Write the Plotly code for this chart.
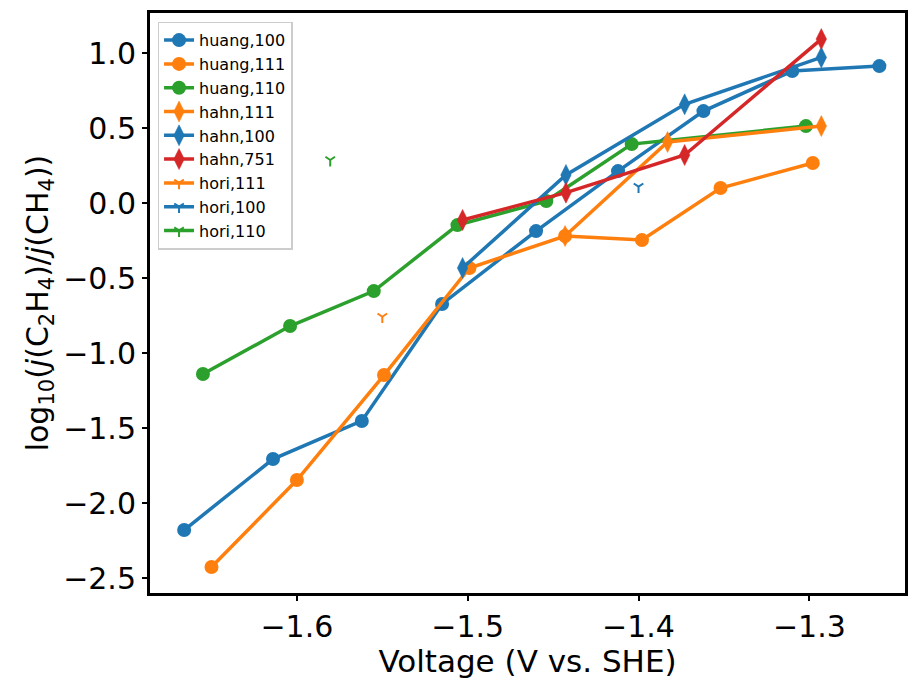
import plotly.graph_objects as go

BLUE = "#1f77b4"
ORANGE = "#ff7f0e"
GREEN = "#2ca02c"
RED = "#d62728"

# Huang data (circles)
huang_100_v = [-1.666, -1.614, -1.562, -1.515, -1.460, -1.412, -1.362, -1.310, -1.259]
huang_100_r = [-2.18, -1.707, -1.453, -0.673, -0.187, 0.213, 0.613, 0.88, 0.913]

huang_111_v = [-1.650, -1.600, -1.549, -1.499, -1.443, -1.398, -1.352, -1.298]
huang_111_r = [-2.427, -1.847, -1.147, -0.433, -0.22, -0.247, 0.10, 0.267]

huang_110_v = [-1.655, -1.604, -1.555, -1.506, -1.454, -1.404, -1.302]
huang_110_r = [-1.14, -0.82, -0.587, -0.147, 0.013, 0.393, 0.513]

# Hahn data (diamonds)
hahn_111_v = [-1.443, -1.383, -1.293]
hahn_111_r = [-0.22, 0.407, 0.513]

hahn_100_v = [-1.503, -1.4425, -1.373, -1.293]
hahn_100_r = [-0.433, 0.187, 0.658, 0.971]

hahn_751_v = [-1.503, -1.4425, -1.373, -1.293]
hahn_751_r = [-0.113, 0.069, 0.32, 1.093]

# Hori data (single points)
hori_111_v = [-1.550]
hori_111_r = [-0.758]
hori_100_v = [-1.400]
hori_100_r = [0.109]
hori_110_v = [-1.5805]
hori_110_r = [0.287]

x_ticks = [-1.6, -1.5, -1.4, -1.3]
y_ticks = [1.0, 0.5, 0.0, -0.5, -1.0, -1.5, -2.0, -2.5]


def fmt(v):
    s = f"{v:.1f}"
    return s.replace("-", "\u2212")


series = [
    ("huang,100", huang_100_v, huang_100_r, BLUE, "circle"),
    ("huang,111", huang_111_v, huang_111_r, ORANGE, "circle"),
    ("huang,110", huang_110_v, huang_110_r, GREEN, "circle"),
    ("hahn,111", hahn_111_v, hahn_111_r, ORANGE, "diamond-tall"),
    ("hahn,100", hahn_100_v, hahn_100_r, BLUE, "diamond-tall"),
    ("hahn,751", hahn_751_v, hahn_751_r, RED, "diamond-tall"),
    ("hori,111", hori_111_v, hori_111_r, ORANGE, "y-down"),
    ("hori,100", hori_100_v, hori_100_r, BLUE, "y-down"),
    ("hori,110", hori_110_v, hori_110_r, GREEN, "y-down"),
]

fig = go.Figure()
for name, xs, ys, color, sym in series:
    if sym == "circle":
        marker = dict(symbol=sym, size=14, color=color, line=dict(width=0))
    elif sym == "diamond-tall":
        marker = dict(symbol=sym, size=15, color=color, line=dict(width=0.5, color=color))
    else:
        marker = dict(symbol=sym, size=8, color=color, line=dict(width=2, color=color))
    fig.add_trace(go.Scatter(
        x=xs, y=ys, name=name, mode="lines+markers",
        line=dict(color=color, width=3.5),
        marker=marker,
    ))

axis_common = dict(
    showline=True, linecolor="black", linewidth=3, mirror=True,
    ticks="outside", ticklen=5, tickwidth=1.5, tickcolor="black",
    showgrid=False, zeroline=False,
    tickfont=dict(family="DejaVu Sans", size=30, color="black"),
)

fig.update_layout(
    width=909, height=679,
    margin=dict(l=150, r=1, t=13, b=86),
    paper_bgcolor="white", plot_bgcolor="white",
    font=dict(family="DejaVu Sans", color="black"),
    xaxis=dict(
        range=[-1.686, -1.244],
        tickvals=x_ticks,
        ticktext=[fmt(v) for v in x_ticks],
        title=dict(text="Voltage (V vs. SHE)", font=dict(size=31), standoff=2),
        **axis_common,
    ),
    yaxis=dict(
        range=[-2.6, 1.267],
        tickvals=y_ticks,
        ticktext=[fmt(v) for v in y_ticks],
        title=dict(
            text="log<sub>10</sub>(<i>j</i>(C<sub>2</sub>H<sub>4</sub>)/<i>j</i>(CH<sub>4</sub>))",
            font=dict(size=30), standoff=6,
        ),
        **axis_common,
    ),
    legend=dict(
        x=0.01, y=0.985, xanchor="left", yanchor="top",
        bgcolor="rgba(255,255,255,0.8)", bordercolor="#cccccc", borderwidth=1.5,
        font=dict(family="DejaVu Sans", size=16, color="black"),
        tracegroupgap=0,
    ),
)

fig.write_html("out.html")
